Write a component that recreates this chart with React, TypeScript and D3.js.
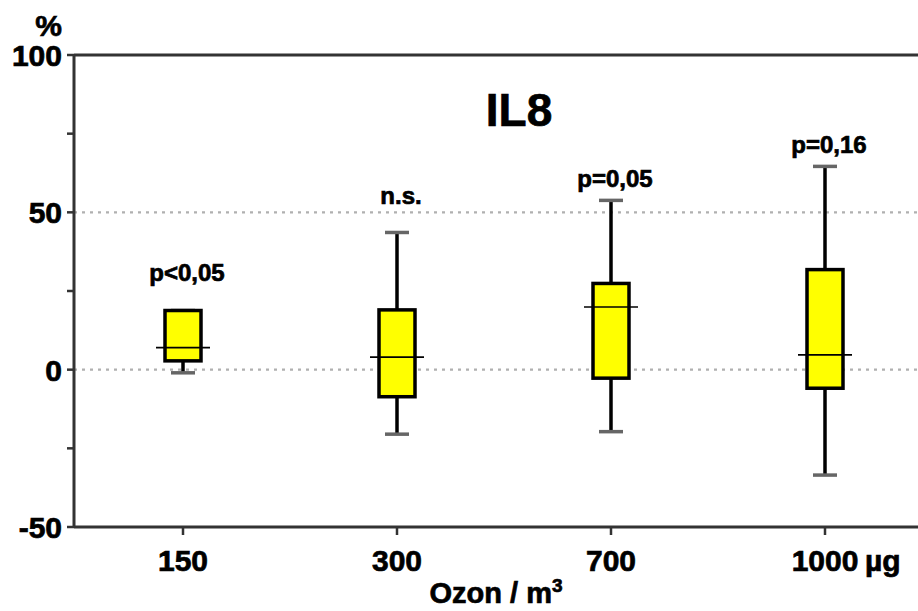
import { useEffect, useRef } from 'react';
import * as d3 from 'd3';

// Ozone doses (x categories) and the box statistics, in %
const doses = ['150', '300', '700', '1000'];
const whiskerLow = [-1, -20.5, -19.7, -33.5];
const boxLow = [2.8, -8.6, -2.7, -5.9];
const medians = [7, 4, 19.9, 4.7];
const boxHigh = [18.8, 19, 27.4, 31.8];
const whiskerHigh = [18.8, 43.6, 53.8, 64.6];
const pLabels = ['p<0,05', 'n.s.', 'p=0,05', 'p=0,16'];
const pLabelAt = [28.2, 52.5, 58, 69];
const yTicks = [-50, 0, 50, 100];
const yMinorTicks = [-25, 25, 75];
const gridValues = [0, 50];

const FONT = "'Liberation Sans', Arial, sans-serif";

function App() {
  const ref = useRef<SVGSVGElement>(null);

  useEffect(() => {
    const svg = d3.select(ref.current);
    svg.selectAll('*').remove();
    drawChart(svg);
  }, []);

  return (
    <svg
      ref={ref}
      width={918}
      height={611}
      style={{ position: 'absolute', left: 0, top: 0, background: '#fff', fontFamily: FONT }}
    />
  );
}

function drawChart(svg: d3.Selection<SVGSVGElement | null, unknown, null, undefined>) {
  const left = 74;
  const right = 918;
  const top = 55;
  const bottom = 527;

  const y = d3.scaleLinear().domain([-50, 100]).range([bottom, top]);
  const x = d3.scalePoint<string>().domain(doses).range([76, 932]).padding(0.5);
  const boxW = 36;
  const capW = 24;
  const medExt = 9;

  // text is a bit heavier in the original, so give it a thin outline
  const boldText = (sel: d3.Selection<SVGTextElement, any, any, any>, size: number) =>
    sel.attr('font-size', size)
      .attr('font-weight', 'bold')
      .attr('fill', '#000')
      .attr('stroke', '#000')
      .attr('stroke-width', 0.7);

  // dotted reference lines
  svg.append('g')
    .selectAll('line')
    .data(gridValues)
    .join('line')
      .attr('x1', left)
      .attr('x2', right)
      .attr('y1', d => y(d))
      .attr('y2', d => y(d))
      .attr('stroke', '#b0b0b0')
      .attr('stroke-width', 2.2)
      .attr('stroke-dasharray', '3,5');

  // frame: left axis, top and bottom lines
  const frame = svg.append('g').attr('stroke', '#333').attr('stroke-width', 3);
  frame.append('line').attr('x1', left).attr('x2', left).attr('y1', top).attr('y2', bottom);
  frame.append('line').attr('x1', left).attr('x2', right).attr('y1', top).attr('y2', top);
  frame.append('line').attr('x1', left).attr('x2', right).attr('y1', bottom).attr('y2', bottom);

  // y ticks
  svg.append('g')
    .selectAll('line')
    .data([...yTicks, ...yMinorTicks])
    .join('line')
      .attr('x1', left - 7)
      .attr('x2', left)
      .attr('y1', d => y(d))
      .attr('y2', d => y(d))
      .attr('stroke', '#333')
      .attr('stroke-width', 2.5);

  svg.append('g')
    .selectAll('text')
    .data(yTicks)
    .join('text')
      .attr('x', 62)
      .attr('y', d => y(d) + 11)
      .attr('text-anchor', 'end')
      .call(boldText, 30)
      .text(d => d);

  svg.append('text')
    .attr('x', 62)
    .attr('y', 36)
    .attr('text-anchor', 'end')
    .call(boldText, 30)
    .text('%');

  // x ticks
  svg.append('g')
    .selectAll('line')
    .data(doses)
    .join('line')
      .attr('x1', d => x(d)!)
      .attr('x2', d => x(d)!)
      .attr('y1', bottom)
      .attr('y2', bottom + 8)
      .attr('stroke', '#333')
      .attr('stroke-width', 2.5);

  svg.append('g')
    .selectAll('text')
    .data(doses)
    .join('text')
      .attr('x', d => x(d)!)
      .attr('y', 571)
      .attr('text-anchor', 'middle')
      .call(boldText, 30)
      .text(d => d);

  svg.append('text')
    .attr('x', x(doses[doses.length - 1])! + 40)
    .attr('y', 571)
    .call(boldText, 30)
    .text('µg');

  const xt = svg.append('text')
    .attr('x', 496)
    .attr('y', 603)
    .attr('text-anchor', 'middle')
    .call(boldText, 29);
  xt.append('tspan').text('Ozon / m');
  xt.append('tspan').attr('font-size', 19).attr('dy', -11).text('3');

  // title
  svg.append('text')
    .attr('x', 519)
    .attr('y', 126)
    .attr('text-anchor', 'middle')
    .call(boldText, 46)
    .text('IL8');

  // boxes
  const g = svg.append('g')
    .selectAll('g')
    .data(doses)
    .join('g');

  g.append('line')
    .attr('x1', d => x(d)!)
    .attr('x2', d => x(d)!)
    .attr('y1', (d, i) => y(whiskerLow[i]))
    .attr('y2', (d, i) => y(whiskerHigh[i]))
    .attr('stroke', '#000')
    .attr('stroke-width', 3.5);

  g.selectAll('line.cap')
    .data((d, i) => [whiskerLow[i], whiskerHigh[i]].map(v => ({ d, v })))
    .join('line')
      .attr('class', 'cap')
      .attr('x1', o => x(o.d)! - capW / 2)
      .attr('x2', o => x(o.d)! + capW / 2)
      .attr('y1', o => y(o.v))
      .attr('y2', o => y(o.v))
      .attr('stroke', '#666')
      .attr('stroke-width', 3.5);

  g.append('rect')
    .attr('x', d => x(d)! - boxW / 2)
    .attr('width', boxW)
    .attr('y', (d, i) => y(boxHigh[i]))
    .attr('height', (d, i) => y(boxLow[i]) - y(boxHigh[i]))
    .attr('fill', '#ffff00')
    .attr('stroke', '#000')
    .attr('stroke-width', 3.5);

  g.append('line')
    .attr('x1', d => x(d)! - boxW / 2 - medExt)
    .attr('x2', d => x(d)! + boxW / 2 + medExt)
    .attr('y1', (d, i) => y(medians[i]))
    .attr('y2', (d, i) => y(medians[i]))
    .attr('stroke', '#000')
    .attr('stroke-width', 1.6);

  g.append('text')
    .attr('x', d => x(d)! + 4)
    .attr('y', (d, i) => y(pLabelAt[i]))
    .attr('text-anchor', 'middle')
    .call(boldText, 24)
    .text((d, i) => pLabels[i]);
}

export default App;
